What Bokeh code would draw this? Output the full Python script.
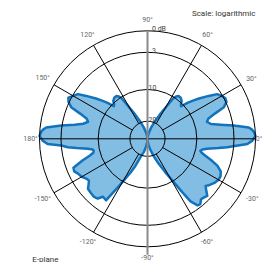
import numpy as np
from bokeh.plotting import figure
from bokeh.models import Range1d
from bokeh.core.properties import value
from bokeh.embed import file_html
from bokeh.resources import INLINE

# ---- data: E-plane pattern, attenuation in dB (0 dB = maximum) ----
right_angles = [-90, -85, -80, -75, -70, -66, -62, -59, -57, -55.5, -53, -51, -48.5, -46,
                -43.7, -41, -39, -37, -33.4, -30, -27, -24, -21, -18.5, -16.3, -14.5, -12.8,
                -11, -9.5, -7.5, -6, -4.5, -3, -1, 1.5, 3.5, 5, 6.4, 8.8, 11, 13, 16, 18.5,
                20.5, 22.5, 25, 27.5, 30, 32.7, 35, 38, 40, 42, 44, 46, 48, 51, 54, 56, 57.5,
                60, 63, 67, 72, 78, 85]
right_db = [30.3, 28.0, 25.4, 22.6, 19.4, 16.3, 13.0, 10.0, 7.0, 4.7, 3.5, 3.4, 3.9, 3.8,
            3.6, 4.4, 4.9, 4.5, 4.0, 3.7, 3.7, 4.0, 4.9, 6.3, 7.6, 8.5, 8.9,
            8.5, 7.6, 5.5, 4.0, 2.6, 1.05, 0.4, 0.0, 0.15, 0.4, 0.8, 2.9, 5.0, 6.6, 7.3, 6.8,
            5.4, 3.6, 2.9, 2.8, 3.1, 3.6, 4.9, 6.6, 7.8, 9.0, 10.6, 10.3, 9.6, 9.2, 9.2, 9.6, 10.3,
            13.5, 16.3, 19.4, 22.6, 26.0, 28.7]
left_angles = [90, 95, 102, 108, 113, 117, 120, 122.5, 124, 126, 129, 132, 134, 136, 138,
               140, 142, 145, 147.3, 150, 152.6, 155, 157.5, 159.5, 161.5, 164, 166.8, 169,
               171.2, 173.6, 175, 176.5, 178.5, 181, 183, 184.5, 186, 187.5, 189.5, 191,
               192.5, 194.5, 196.3, 198.5, 201.4, 204, 206.6, 210, 213, 215.4, 218, 220,
               223.5, 227, 230.2, 232.5, 236, 238.3, 240.5, 243.4, 246, 249, 255, 260, 265]
left_db = [30.3, 28.7, 26.0, 22.6, 19.4, 16.3, 13.5, 10.3, 9.6, 9.2, 9.2, 9.6, 10.3, 10.6, 9.0,
           7.8, 6.6, 4.9, 3.6, 3.1, 2.6, 2.9, 3.6, 5.4, 6.8, 7.3, 6.5, 5.0,
           2.9, 0.8, 0.4, 0.15, 0.0, 0.4, 1.05, 3.0, 4.0, 5.5, 7.6, 8.5,
           8.7, 8.5, 7.6, 6.0, 4.1, 4.0, 4.4, 4.7, 5.2, 5.4, 4.9, 4.4,
           4.3, 4.2, 4.4, 5.2, 5.0, 8.0, 10.5, 13.0, 15.5, 19.0, 22.0, 25.0, 28.0]

ring_db = [0, 3, 10, 20]
ring_labels = ["0 dB", "3", "10", "20"]
spoke_angles = [30, 60, 120, 150, 210, 240, 300, 330]
tick_angles = [0, 30, 60, 90, 120, 150, 180, -150, -120, -90, -60, -30]
tick_labels = ["0°", "30°", "60°", "90°", "120°", "150°", "180°",
               "-150°", "-120°", "-90°", "-60°", "-30°"]

R = 108.0


def radius(db):
    db = np.asarray(db, dtype=float)
    r = R * (1.185185 * 10 ** (-db / 37.55) - 0.185185)
    return np.clip(r, 0, None)


p = figure(width=263, height=262, x_range=Range1d(-147, 116), y_range=Range1d(-123.7, 138.3),
           x_axis_type=None, y_axis_type=None, toolbar_location=None, output_backend="svg",
           min_border=0, outline_line_color=None, background_fill_color="white")

# pattern
ang = np.radians(np.array(right_angles + left_angles, dtype=float))
rr = radius(right_db + left_db)
p.patch(rr * np.cos(ang), rr * np.sin(ang), fill_color="#82bde3", line_color="#1273bd",
        line_width=2.5, line_join="round")

# grid rings
ring_r = radius(ring_db)
p.circle(x=[0] * len(ring_r), y=[0] * len(ring_r), radius=ring_r, fill_color=None,
         line_color="black", line_width=1)

# spokes
sa = np.radians(spoke_angles)
r_in = radius(20)
p.segment(x0=r_in * np.cos(sa), y0=r_in * np.sin(sa), x1=R * np.cos(sa), y1=R * np.sin(sa),
          line_color="black", line_width=1)
p.segment(x0=[-R], y0=[0], x1=[R], y1=[0], line_color="black", line_width=1)
p.segment(x0=[0], y0=[R], x1=[0], y1=[-R - 8], line_color="#8a8a8a", line_width=2)

# ring labels
lab_x = [4.5, 4.5, 1.0, 1.0]
p.text(x=lab_x, y=ring_r + 2.0, text=ring_labels, text_font=value("Roboto"),
       text_font_size="7px", text_color="#444444", text_align="left",
       text_baseline="alphabetic")

# angle labels
ta = np.radians(tick_angles)
tr = np.array([117, 120, 120, 119, 120, 121, 117, 121, 119, 119, 119, 121], dtype=float)
lx = tr * np.cos(ta)
ly = tr * np.sin(ta)
lx[0] = 111.5  # keep "0°" inside the page, just right of the ring
p.text(x=lx, y=ly, text=tick_labels, text_font=value("Roboto"),
       text_font_size="7px", text_color="#666666", text_align="center",
       text_baseline="middle")

p.text(x=[108], y=[125.8], text=["Scale: logarithmic"], text_font=value("Roboto"),
       text_font_size="8px", text_color="#333333", text_align="right", text_baseline="middle")
p.text(x=[-115.3], y=[-120.2], text=["E-plane"], text_font=value("Roboto"),
       text_font_size="8px", text_color="#333333", text_align="left", text_baseline="middle")

open("out.html", "w").write(file_html(p, INLINE))
